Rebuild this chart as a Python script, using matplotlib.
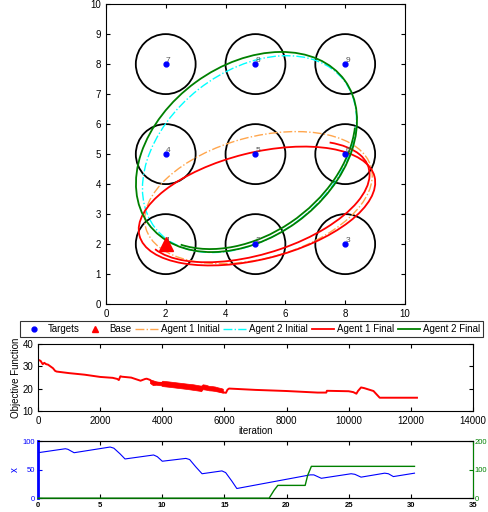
import matplotlib
matplotlib.use("Agg")
import matplotlib.pyplot as plt
from matplotlib.patches import Circle, Ellipse, Arc
from matplotlib.lines import Line2D

plt.rcParams['font.family'] = ['Liberation Sans', 'DejaVu Sans']

## targets / base
target_x = [2, 5, 8, 2, 5, 8, 2, 5, 8]
target_y = [2, 2, 2, 5, 5, 5, 8, 8, 8]
target_ids = ['1', '2', '3', '4', '5', '6', '7', '8', '9']
target_radius = 1.0
base_xy = (2, 2)

agent1_initial = (5.1, 3.55, 7.8, 4.05, 15)
agent2_initial = (4.8, 5.0, 8.0, 5.5, 38)
agent1_final = (5.05, 3.27, 8.1, 3.55, 14)
agent1_final_loop2 = (5.05, 3.42, 7.8, 3.5, 17, 188, 22)    # + theta1, theta2
agent2_final = (4.7, 5.07, 8.12, 5.76, 36)
agent2_final_loop2 = (4.65, 5.17, 8.12, 5.76, 36, 200, 335)

## objective function
iters = [0, 80, 150, 200, 260, 320, 400, 480, 550, 600, 1000, 1500, 2000, 2400, 2550,
         2600, 2650, 2700, 3000, 3300, 3450, 3500, 3600, 3700, 4000, 5000, 5500, 6000,
         6050, 6100, 6150, 7000, 8000, 9000, 9280, 9300, 10000, 10150, 10250, 10300,
         10400, 10500, 10800, 11000, 12200]
objective = [33.0, 32.5, 31.0, 31.6, 31.0, 30.8, 30.0, 29.2, 28.0, 27.7, 27.0, 26.3, 25.3,
             24.9, 24.4, 23.9, 25.6, 25.4, 25.0, 23.6, 24.4, 24.5, 24.0, 22.8, 22.6, 20.8,
             20.2, 18.3, 18.2, 19.6, 20.1, 19.5, 19.0, 18.3, 18.3, 19.1, 18.9, 18.5, 17.8,
             19.0, 20.6, 20.3, 19.0, 16.0, 16.0]
## noisy stretch: envelope of the oscillation
band_iter = [3600, 3700, 3800, 3900, 3950, 4000, 4200, 4500, 4800, 5000, 5200, 5250, 5300,
             5400, 5500, 5600, 5700, 5800, 5900, 5950]
band_hi = [24.2, 23.8, 23.3, 23.0, 22.8, 23.6, 23.3, 22.8, 22.3, 22.0, 21.5, 21.4, 22.0,
           21.8, 21.3, 21.2, 21.0, 20.6, 20.3, 20.0]
band_lo = [22.6, 21.6, 21.8, 21.6, 21.6, 21.2, 20.9, 20.4, 19.9, 19.5, 19.1, 18.9, 19.8,
           19.6, 19.3, 19.2, 19.0, 18.7, 18.4, 18.2]

## bottom panel
t_x = [0, 2.2, 2.4, 2.9, 5.8, 6.1, 6.6, 7.0, 9.3, 9.6, 10.0, 11.9, 12.2, 12.7, 13.2, 14.8,
       15.1, 15.6, 16.0, 21.9, 22.2, 22.8, 25.2, 25.5, 26.0, 27.9, 28.2, 28.6, 30.3]
x_val = [80, 87, 86, 80, 90, 88, 78, 69, 76, 73, 65, 70, 68, 55, 43, 48, 45, 30, 17, 41, 41,
         35, 43, 42, 37, 44, 43, 38, 44]
t_y = [0, 18.6, 19.0, 19.3, 21.5, 21.7, 22.0, 30.3]
y_val = [0, 0, 28, 45, 45, 80, 112, 112]

c_orange = '#ffa64d'
c_cyan = '#00ffff'
c_red = '#ff0000'
c_green = '#008000'
c_blue = '#0000ff'

fig = plt.figure(figsize=(4.88, 5.12), dpi=100)

def matlab_ticks(ax, size=7):
    ax.tick_params(direction='in', top=True, right=True, labelsize=size, length=3, width=0.8)
    for s in ax.spines.values():
        s.set_linewidth(0.8)

## ---------------- top: map ----------------
ax = fig.add_axes([0.217, 0.406, 0.613, 0.586])
for x, y, lab in zip(target_x, target_y, target_ids):
    ax.add_patch(Circle((x, y), target_radius, fill=False, ec='black', lw=1.3, zorder=2))
    ax.text(x, y + 0.02, lab, fontsize=6, color='#555555', ha='left', va='bottom', zorder=5)
ax.plot(target_x, target_y, 'o', color=c_blue, ms=3.5, zorder=6)
ax.plot(*base_xy, '^', color=c_red, ms=10.5, zorder=7)

def ell(p, **kw):
    ax.add_patch(Ellipse((p[0], p[1]), p[2], p[3], angle=p[4], fill=False, zorder=3, **kw))

def arc(p, **kw):
    ax.add_patch(Arc((p[0], p[1]), p[2], p[3], angle=p[4], theta1=p[5], theta2=p[6], zorder=3, **kw))

ell(agent1_initial, ec=c_orange, lw=1.0, ls='-.')
ell(agent2_initial, ec=c_cyan, lw=1.0, ls='-.')
ell(agent1_final, ec=c_red, lw=1.3)
arc(agent1_final_loop2, color=c_red, lw=1.3)
ell(agent2_final, ec=c_green, lw=1.3)
arc(agent2_final_loop2, color=c_green, lw=1.3)

ax.set_xlim(0, 10)
ax.set_ylim(0, 10)
ax.set_xticks(range(0, 11, 2))
ax.set_yticks(range(0, 11))
matlab_ticks(ax)

handles = [
    Line2D([], [], ls='none', marker='o', color=c_blue, ms=3.5),
    Line2D([], [], ls='none', marker='^', color=c_red, ms=4),
    Line2D([], [], ls='-.', color=c_orange, lw=1.0),
    Line2D([], [], ls='-.', color=c_cyan, lw=1.0),
    Line2D([], [], ls='-', color=c_red, lw=1.3),
    Line2D([], [], ls='-', color=c_green, lw=1.3),
]
labels = ['Targets', 'Base', 'Agent 1 Initial', 'Agent 2 Initial', 'Agent 1 Final', 'Agent 2 Final']
leg = fig.legend(handles, labels, loc='center', bbox_to_anchor=(0.5155, 0.357), ncol=6,
                 fontsize=7, frameon=True, fancybox=False, edgecolor='black',
                 handlelength=2.3, handletextpad=0.3, columnspacing=0.42, borderpad=0.3,
                 borderaxespad=0)
leg.get_frame().set_linewidth(0.8)

## ---------------- middle: objective ----------------
ax2 = fig.add_axes([0.078, 0.197, 0.891, 0.131])
ax2.fill_between(band_iter, band_lo, band_hi, color=c_red, lw=0.5)
ax2.plot(iters, objective, color=c_red, lw=1.4)
ax2.set_xlim(0, 14000)
ax2.set_ylim(10, 40)
ax2.set_yticks([10, 20, 30, 40])
ax2.set_xlabel('iteration', fontsize=7, labelpad=0)
ax2.set_ylabel('Objective Function', fontsize=7, labelpad=1)
matlab_ticks(ax2)

## ---------------- bottom: x / y ----------------
ax3 = fig.add_axes([0.078, 0.027, 0.891, 0.111])
ax3.plot(t_x, x_val, color=c_blue, lw=0.8)
ax3.set_xlim(0, 35)
ax3.set_ylim(0, 100)
ax3.set_yticks([0, 50, 100])
ax3.set_ylabel('x', color=c_blue, fontsize=7, labelpad=2)
ax3.tick_params(direction='in', top=True, labelsize=5.5, length=3, width=0.8, pad=2)
ax3.tick_params(axis='x', pad=3)
ax3.tick_params(axis='y', colors=c_blue)
for lab in ax3.get_xticklabels():
    lab.set_fontweight('bold')
ax4 = ax3.twinx()
ax4.plot(t_y, y_val, color=c_green, lw=1.0, clip_on=False, zorder=5)
ax4.set_ylim(0, 200)
ax4.set_yticks([0, 100, 200])
ax4.tick_params(direction='in', labelsize=5.5, length=3, width=0.8, colors=c_green, pad=1.5)
ax4.spines['right'].set_color(c_green)
ax4.spines['left'].set_color(c_blue)
ax4.spines['left'].set_linewidth(2)

fig.savefig('out.png', dpi=100)
